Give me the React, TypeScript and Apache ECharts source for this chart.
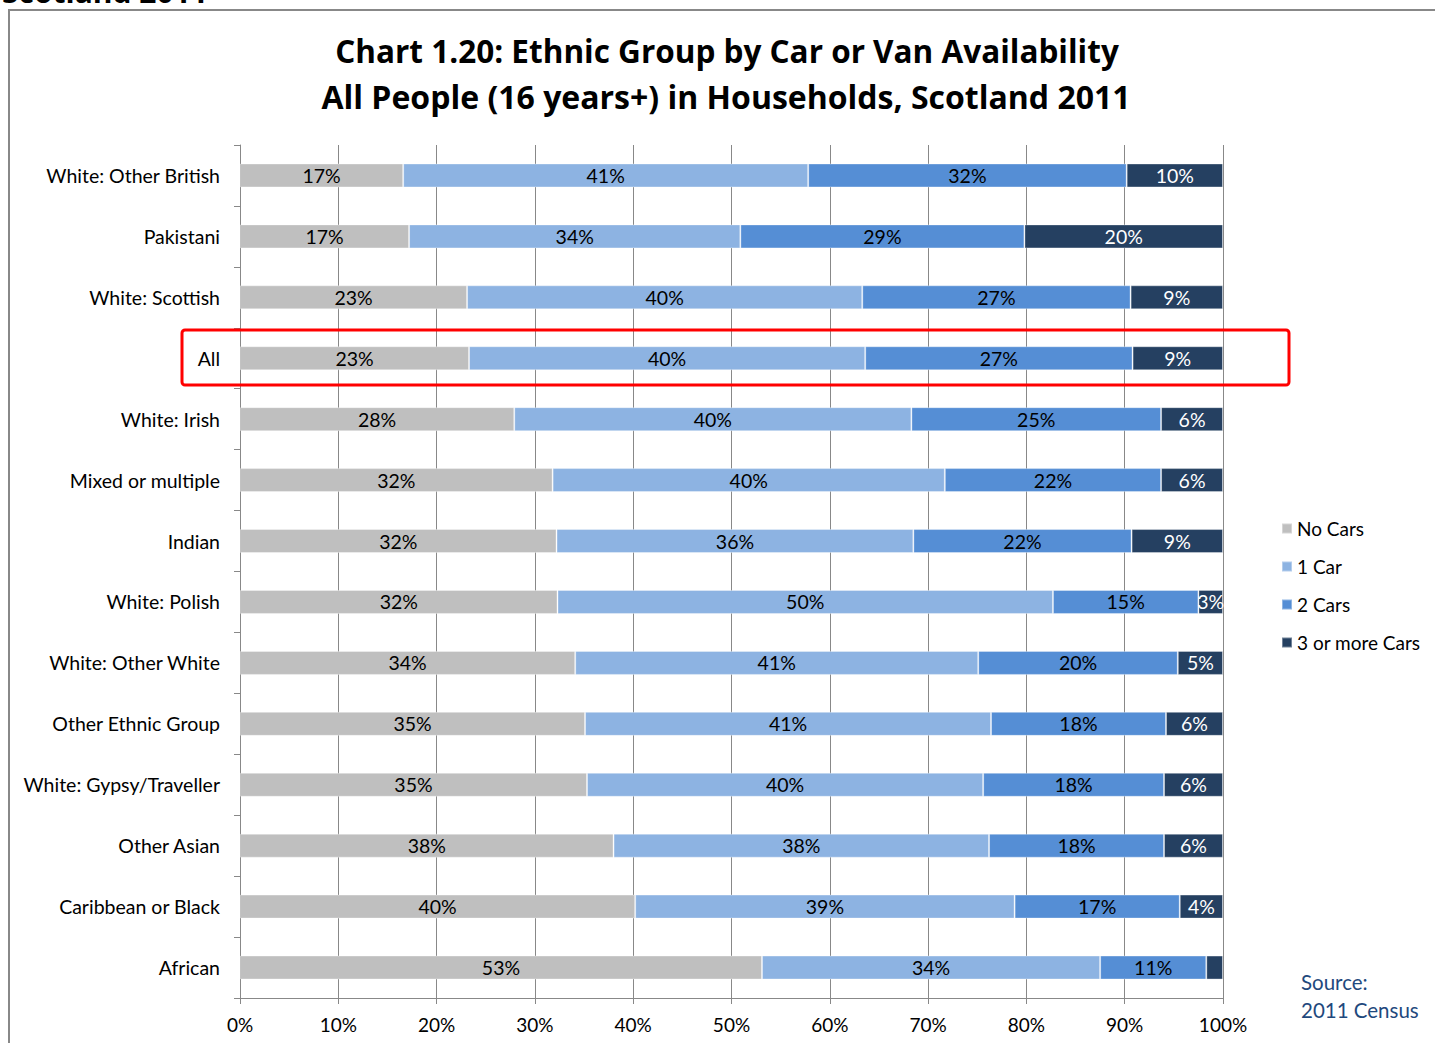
import React, { useEffect, useRef } from "react";
import * as echarts from "echarts";

const categories = [
  "White: Other British",
  "Pakistani",
  "White: Scottish",
  "All",
  "White: Irish",
  "Mixed or multiple",
  "Indian",
  "White: Polish",
  "White: Other White",
  "Other Ethnic Group",
  "White: Gypsy/Traveller",
  "Other Asian",
  "Caribbean or Black",
  "African",
];

const noCars = [16.6, 17.2, 23.1, 23.3, 27.9, 31.8, 32.2, 32.3, 34.1, 35.1, 35.3, 38.0, 40.2, 53.1];
const oneCar = [41.2, 33.7, 40.2, 40.3, 40.4, 39.9, 36.3, 50.4, 41.0, 41.3, 40.3, 38.2, 38.6, 34.4];
const twoCars = [32.4, 28.9, 27.3, 27.2, 25.4, 22.0, 22.2, 14.8, 20.3, 17.8, 18.4, 17.8, 16.8, 10.8];
const threeCars = [9.8, 20.2, 9.4, 9.2, 6.3, 6.3, 9.3, 2.5, 4.6, 5.8, 6.0, 6.0, 4.4, 1.7];

const seriesNames = ["No Cars", "1 Car", "2 Cars", "3 or more Cars"];
const seriesColors = ["#BFBFBF", "#8DB3E2", "#558ED5", "#254061"];
const labelColors = ["#000000", "#000000", "#000000", "#FFFFFF"];
const xTicks = [0, 10, 20, 30, 40, 50, 60, 70, 80, 90, 100];

const FONT = "Lato, 'Open Sans', sans-serif";
const TITLE_FONT = "'Open Sans', Lato, sans-serif";

export default function App() {
  const ref = useRef<HTMLDivElement>(null);

  useEffect(() => {
    document.body.style.margin = "0";
    if (!ref.current) return;
    const chart = echarts.init(ref.current, null, { renderer: "svg" });
    const data = [noCars, oneCar, twoCars, threeCars];
    chart.setOption({
      animation: false,
      backgroundColor: "#FFFFFF",
      textStyle: { fontFamily: FONT },
      grid: { left: 240, right: 212, top: 145, bottom: 45, containLabel: false },
      legend: {
        orient: "vertical",
        left: 1276,
        top: 514,
        itemWidth: 10,
        itemHeight: 10,
        itemGap: 19,
        icon: "rect",
        data: seriesNames,
        textStyle: { fontFamily: FONT, fontSize: 19, color: "#000000", padding: [0, 0, 0, 0] },
      },
      xAxis: {
        type: "value",
        min: 0,
        max: 100,
        interval: 10,
        axisLine: { show: true, lineStyle: { color: "#888888", width: 1 } },
        axisTick: { show: true, length: 6, lineStyle: { color: "#888888" } },
        splitLine: { show: true, lineStyle: { color: "#888888", width: 1 } },
        axisLabel: {
          fontFamily: FONT,
          fontSize: 19,
          color: "#000000",
          margin: 17,
          formatter: (v: number) => (xTicks.includes(v) ? v + "%" : ""),
        },
      },
      yAxis: {
        type: "category",
        inverse: true,
        data: categories,
        axisLine: { show: true, lineStyle: { color: "#888888", width: 1 } },
        axisTick: { show: true, length: 6, alignWithLabel: false, lineStyle: { color: "#888888" } },
        axisLabel: { fontFamily: FONT, fontSize: 19.5, color: "#000000", margin: 20 },
        splitLine: { show: false },
      },
      series: seriesNames.map((name, i) => ({
        name,
        type: "bar",
        stack: "total",
        barWidth: 24,
        data: data[i],
        itemStyle: { color: seriesColors[i], borderColor: "rgba(255,255,255,0.35)", borderWidth: 1 },
        label: {
          show: true,
          position: "inside",
          fontFamily: FONT,
          fontSize: 19.5,
          color: labelColors[i],
          formatter: (p: any) => (p.value < 2 ? "" : Math.round(p.value) + "%"),
        },
      })),
      graphic: [
        {
          type: "rect",
          shape: { x: 9, y: 10, width: 1440, height: 1060 },
          style: { fill: "none", stroke: "#888888", lineWidth: 2 },
          silent: true,
          z: 100,
        },
        {
          type: "text",
          x: 2,
          y: -24,
          style: { text: "Scotland 2011", fontFamily: TITLE_FONT, fontSize: 30, fontWeight: "bold", fill: "#000000" },
          silent: true,
        },
        {
          type: "text",
          x: 727,
          y: 50,
          style: {
            text: "Chart 1.20: Ethnic Group by Car or Van Availability",
            fontFamily: TITLE_FONT,
            fontSize: 31.5,
            fontWeight: "bold",
            fill: "#000000",
            align: "center",
            verticalAlign: "middle",
          },
          silent: true,
        },
        {
          type: "text",
          x: 726,
          y: 96,
          style: {
            text: "All People (16 years+) in Households, Scotland 2011",
            fontFamily: TITLE_FONT,
            fontSize: 32,
            fontWeight: "bold",
            fill: "#000000",
            align: "center",
            verticalAlign: "middle",
          },
          silent: true,
        },
        {
          type: "rect",
          shape: { x: 182, y: 330, width: 1107, height: 55, r: 3 },
          style: { fill: "none", stroke: "#FF0000", lineWidth: 3 },
          silent: true,
          z: 100,
        },
        {
          type: "text",
          x: 1301,
          y: 982,
          style: {
            text: "Source:",
            fontFamily: FONT,
            fontSize: 20.5,
            fill: "#1F497D",
            verticalAlign: "middle",
          },
          silent: true,
        },
        {
          type: "text",
          x: 1301,
          y: 1010,
          style: {
            text: "2011 Census",
            fontFamily: FONT,
            fontSize: 20.5,
            fill: "#1F497D",
            verticalAlign: "middle",
          },
          silent: true,
        },
      ],
    });
    return () => chart.dispose();
  }, []);

  return <div ref={ref} style={{ width: 1435, height: 1043 }} />;
}
